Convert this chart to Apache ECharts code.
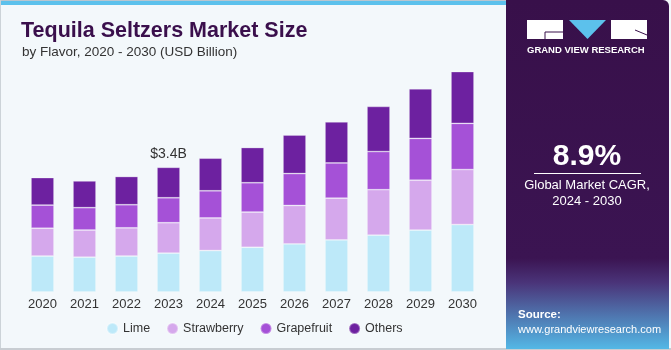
<!DOCTYPE html>
<html>
<head>
<meta charset="utf-8">
<script src="https://cdn.jsdelivr.net/npm/echarts@6/dist/echarts.min.js"></script>
<style>
html,body{margin:0;padding:0;background:#fff;}
#c{width:671px;height:350px;}
</style>
</head>
<body>
<div id="c"></div>
<script>
const years = ['2020','2021','2022','2023','2024','2025','2026','2027','2028','2029','2030'];
const lime       = [0.98, 0.95, 0.98, 1.06, 1.13, 1.22, 1.31, 1.42, 1.55, 1.69, 1.84];
const strawberry = [0.76, 0.74, 0.77, 0.83, 0.89, 0.96, 1.05, 1.14, 1.24, 1.36, 1.50];
const grapefruit = [0.63, 0.61, 0.63, 0.68, 0.74, 0.80, 0.87, 0.96, 1.04, 1.14, 1.26];
const others     = [0.75, 0.73, 0.77, 0.83, 0.89, 0.96, 1.05, 1.12, 1.23, 1.35, 1.49];
const seriesNames = ['Lime','Strawberry','Grapefruit','Others'];
const colors = ['#BDE9F9','#D5A8EC','#A551D7','#6D21A0'];
const callout = {index: 3, text: '$3.4B'};

const FONT = '"Liberation Sans", Arial, sans-serif';
const chart = echarts.init(document.getElementById('c'), null, {renderer:'canvas'});

function mk(name, data, color, withLabel){
  return {
    name, type:'bar', stack:'total', barWidth: 23,
    itemStyle:{color, borderColor:'rgba(255,255,255,0.35)', borderWidth:0.8},
    emphasis:{disabled:true},
    data: data.map((v,i)=> (withLabel && i===callout.index) ? {
      value:v, label:{show:true, position:'top', distance:6, formatter:callout.text,
        color:'#333', fontSize:14, fontFamily:FONT}
    } : v)
  };
}

const option = {
  backgroundColor:'#F3F8FB',
  animation:false,
  title:[
    {text:'Tequila Seltzers Market Size', left:16, top:15,
     textStyle:{color:'#3A0F4C', fontSize:21.5, fontWeight:'bold', fontFamily:FONT}},
    {text:'by Flavor, 2020 - 2030 (USD Billion)', left:17, top:40,
     textStyle:{color:'#333', fontSize:13.5, fontWeight:'normal', fontFamily:FONT}}
  ],
  legend:{
    data:seriesNames, left:101, top:317, icon:'circle', itemWidth:11, itemHeight:11, itemGap:16,
    textStyle:{color:'#333', fontSize:12.5, fontFamily:FONT}
  },
  grid:{left:21.5, width:462, top:72, bottom:58, containLabel:false},
  xAxis:{type:'category', data:years,
    axisLine:{show:false}, axisTick:{show:false},
    axisLabel:{color:'#333', fontSize:13, fontFamily:FONT, margin:6}},
  yAxis:{type:'value', min:0, max:6, show:false, splitLine:{show:false}},
  series:[
    mk('Lime', lime, colors[0]),
    mk('Strawberry', strawberry, colors[1]),
    mk('Grapefruit', grapefruit, colors[2]),
    mk('Others', others, colors[3], true)
  ],
  graphic:[
    {type:'rect', left:0, top:0, shape:{width:510, height:5}, style:{fill:'#5CC1EC'}, z:-1},
    {type:'rect', left:0, top:0, shape:{width:510, height:1}, style:{fill:'#B8C6D0'}, z:-1},
    {type:'rect', left:0, top:0, shape:{width:1, height:350}, style:{fill:'#CCD3D8'}, z:-1},
    {type:'rect', left:0, top:348, shape:{width:671, height:2}, style:{fill:'#C8CDD2'}, z:-1},
    {type:'rect', left:506, top:0, shape:{width:163, height:349, r:[0,6,0,0]},
     style:{fill:new echarts.graphic.LinearGradient(0,0,0,1,[
       {offset:0, color:'#38104A'},{offset:0.74, color:'#3B1452'},{offset:0.81, color:'#4A3479'},
       {offset:1, color:'#54B8E6'}])}, z:1},
    // logo
    {type:'rect', left:527, top:20, shape:{width:36, height:19}, style:{fill:'#fff'}, z:2},
    {type:'polygon', shape:{points:[[569,20],[606,20],[587.5,39]]}, style:{fill:'#5CC1EC'}, z:2},
    {type:'rect', left:611, top:20, shape:{width:36, height:19}, style:{fill:'#fff'}, z:2},
    {type:'line', shape:{x1:545,y1:32,x2:563,y2:32}, style:{stroke:'#38104A', lineWidth:1}, z:3},
    {type:'line', shape:{x1:545,y1:32,x2:545,y2:39}, style:{stroke:'#38104A', lineWidth:1}, z:3},
    {type:'line', shape:{x1:635,y1:30,x2:647,y2:35}, style:{stroke:'#38104A', lineWidth:1}, z:3},
    {type:'text', left:527, top:45, style:{text:'GRAND VIEW RESEARCH', fill:'#fff',
      font:'bold 9.5px '+FONT, width:120}, z:2},
    {type:'text', x:587, y:157, style:{text:'8.9%', fill:'#fff', font:'bold 30px '+FONT,
      textAlign:'center', textVerticalAlign:'middle'}, z:2},
    {type:'line', shape:{x1:534,y1:173.5,x2:641,y2:173.5}, style:{stroke:'#fff', lineWidth:1}, z:2},
    {type:'text', x:587, y:185, style:{text:'Global Market CAGR,', fill:'#fff', font:'13px '+FONT,
      textAlign:'center', textVerticalAlign:'middle'}, z:2},
    {type:'text', x:587, y:201, style:{text:'2024 - 2030', fill:'#fff', font:'13px '+FONT,
      textAlign:'center', textVerticalAlign:'middle'}, z:2},
    {type:'text', x:518, y:315, style:{text:'Source:', fill:'#fff', font:'bold 11.5px '+FONT,
      textVerticalAlign:'middle'}, z:2},
    {type:'text', x:518, y:330, style:{text:'www.grandviewresearch.com', fill:'#fff', font:'11px '+FONT,
      textVerticalAlign:'middle'}, z:2}
  ]
};
chart.setOption(option);
</script>
</body>
</html>
